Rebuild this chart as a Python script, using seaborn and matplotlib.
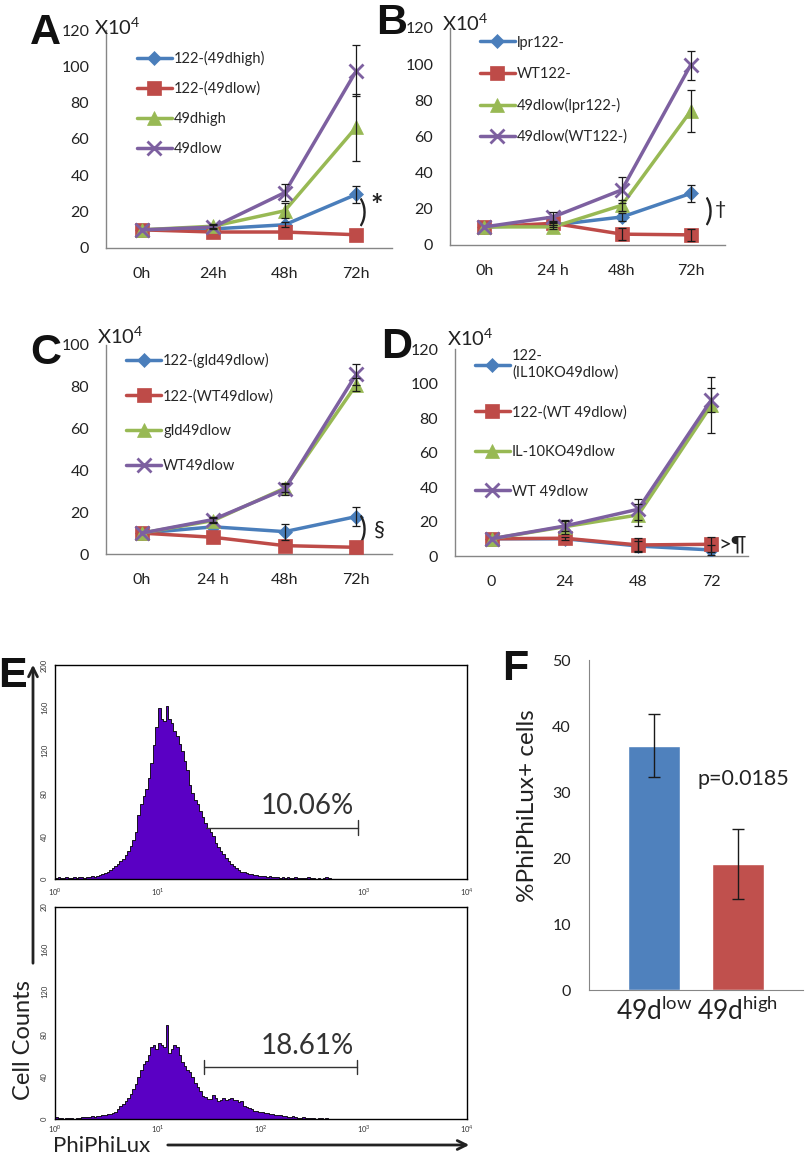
import numpy as np
import matplotlib
matplotlib.use('Agg')
import matplotlib.pyplot as plt
import seaborn as sns

sns.set_style("white")
plt.rcParams['font.family'] = ['Lato', 'DejaVu Sans']

# ---------------- data ----------------
# colours / markers of the 4 series (Excel 2007 look)
line_cols = ['#4A7EBB', '#BE4B48', '#98B954', '#7D60A0']
line_mks = ['D', 's', '^', 'x']
line_ms = [7.5, 10, 10, 10]

# A
a_times = ['0h', '24h', '48h', '72h']
a_names = ['122-(49dhigh)', '122-(49dlow)', '49dhigh', '49dlow']
a_vals = [[10, 10.5, 12.8, 29.5], [10, 8.8, 8.8, 7.3], [10, 12, 20.5, 66.5], [10, 11.5, 30.5, 97.5]]
a_err = [[0, 0, 1.5, 4.5], [0, 0, 0, 0], [0, 1, 4, 18.5], [0, 1, 4.6, 14]]

# B
b_times = ['0h', '24 h', '48h', '72h']
b_names = ['lpr122-', 'WT122-', '49dlow(lpr122-)', '49dlow(WT122-)']
b_vals = [[10, 11, 15.5, 28.5], [10, 12, 6, 5.6], [10, 10, 22, 74], [10, 15.5, 30.5, 99.5]]
b_err = [[0, 1, 2, 4.5], [0, 1, 3.5, 3.5], [0, 1, 3, 11.5], [0, 3, 7, 8]]

# C
c_times = ['0h', '24 h', '48h', '72h']
c_names = ['122-(gld49dlow)', '122-(WT49dlow)', 'gld49dlow', 'WT49dlow']
c_vals = [[10, 13, 10.7, 17.9], [10, 8, 4, 3.2], [10, 16, 31.5, 81], [10, 16.5, 31, 86]]
c_err = [[0, 0, 3.8, 4.7], [0, 0, 0, 0], [0, 1, 2, 3], [0, 1, 3, 5]]

# D
d_times = ['0', '24', '48', '72']
d_names = ['122-\n(IL10KO49dlow)', '122-(WT 49dlow)', 'IL-10KO49dlow', 'WT 49dlow']
d_vals = [[10, 10, 5.8, 3.5], [10, 10.3, 6.4, 6.8], [10, 17, 23.8, 87.5], [10, 17.4, 27.1, 90.5]]
d_err = [[0, 0, 3, 3], [0, 1, 4, 4.5], [0, 4, 6.5, 16], [0, 3, 6, 7]]

# E: flow histograms, counts per bin of 0.025 decade from 10^0 to 10^3
e_binw = 0.025
e_top = [1, 2, 1, 1, 2, 1, 1, 2, 1, 2,
         2, 1, 2, 2, 3, 2, 3, 4, 5, 6,
         7, 8, 10, 12, 14, 17, 19, 22, 26, 31,
         36, 44, 60, 70, 78, 84, 94, 108, 125, 142,
         160, 150, 148, 162, 150, 146, 138, 134, 126, 120,
         110, 102, 88, 80, 74, 70, 64, 58, 52, 48,
         44, 40, 34, 30, 26, 23, 20, 17, 14, 12,
         10, 8, 7, 7, 6, 5, 5, 4, 4, 3,
         3, 3, 2, 3, 2, 2, 2, 1, 2, 1,
         2, 1, 1, 2, 1, 1, 1, 1, 2, 1,
         1, 0, 1, 0, 1, 2, 1, 0, 0, 0,
         0, 0, 0, 0, 0, 0, 0, 0, 0, 0]
e_bot = [2, 1, 1, 0, 1, 1, 1, 0, 1, 1,
         2, 2, 2, 2, 3, 2, 3, 3, 4, 4,
         5, 5, 6, 7, 9, 12, 14, 17, 20, 24,
         28, 33, 40, 46, 52, 55, 60, 68, 70, 66,
         72, 70, 68, 89, 62, 66, 70, 68, 60, 54,
         50, 46, 44, 40, 34, 30, 26, 22, 21, 19,
         19, 23, 20, 17, 18, 20, 18, 19, 20, 18,
         18, 16, 17, 12, 11, 10, 9, 8, 8, 7,
         7, 6, 6, 5, 5, 4, 4, 4, 3, 3,
         2, 2, 3, 2, 1, 1, 2, 1, 1, 1,
         1, 0, 1, 1, 0, 1, 0, 0, 0, 0,
         0, 0, 0, 0, 0, 0, 0, 0, 0, 0]
# gates: (start, end, height), text
e_gate_top = (10 ** 1.47, 10 ** 2.94, 48)
e_gate_bot = (10 ** 1.45, 10 ** 2.93, 49)
e_pct = ['10.06%', '18.61%']

# F
f_groups = ['49d$^{\\mathregular{low}}$', '49d$^{\\mathregular{high}}$']
f_vals = [37.0, 19.1]
f_err = [4.8, 5.3]

W, H = 805, 1158
gray = '#868686'
txt = '#222222'


def fx(px):
    return px / W


def fy(py):
    return 1 - py / H


fig = plt.figure(figsize=(W / 100, H / 100), dpi=100)


def line_panel(rect, times, names, vals, errs, ymax, leg_xy, leg_sp):
    ax = fig.add_axes(rect)
    t = np.arange(4)
    for i in range(4):
        sns.lineplot(x=t, y=vals[i], color=line_cols[i], marker=line_mks[i],
                     ms=line_ms[i], mec=line_cols[i], mew=2 if line_mks[i] == 'x' else 0.5,
                     lw=2.5, label=names[i], ax=ax, zorder=3 + i)
    for i in range(4):
        e = np.array(errs[i])
        m = e > 0
        ax.errorbar(t[m], np.array(vals[i])[m], yerr=e[m], fmt='none', ecolor='#1a1a1a',
                    elinewidth=0.9, capsize=3, capthick=0.9, zorder=10)
    ax.set_xlim(-0.5, 3.5)
    ax.set_ylim(0, ymax)
    ax.set_yticks(np.arange(0, ymax + 1, 20))
    ax.set_xticks(t)
    ax.set_xticklabels(times)
    ax.set_xticks(np.arange(-0.5, 4, 1), minor=True)
    ax.tick_params(axis='x', which='major', length=0, pad=14, labelsize=11.5, labelcolor=txt)
    ax.tick_params(axis='x', which='minor', length=5, width=1, color=gray, direction='out')
    ax.tick_params(axis='y', length=4, width=1, color=gray, direction='out', pad=8,
                   labelsize=11.5, labelcolor=txt)
    for s in ['top', 'right']:
        ax.spines[s].set_visible(False)
    for s in ['left', 'bottom']:
        ax.spines[s].set_color(gray)
        ax.spines[s].set_linewidth(1)
    ax.set_xlabel('')
    ax.set_ylabel('')
    h, l = ax.get_legend_handles_labels()
    ax.legend(h, l, loc='upper left', bbox_to_anchor=leg_xy, frameon=False, fontsize=10.5,
              labelspacing=leg_sp, handlelength=2.4, handletextpad=0.15, borderpad=0,
              borderaxespad=0)
    return ax


axA = line_panel([fx(106), fy(248), fx(286), 218 / H], a_times, a_names, a_vals, a_err, 120,
                 (0.108, 0.905), 1.1)
axB = line_panel([fx(450), fy(245), fx(275), 217 / H], b_times, b_names, b_vals, b_err, 120,
                 (0.109, 0.965), 1.17)
axC = line_panel([fx(106), fy(554), fx(286), 209 / H], c_times, c_names, c_vals, c_err, 100,
                 (0.07, 0.96), 1.42)
axD = line_panel([fx(455), fy(556), fx(293), 207 / H], d_times, d_names, d_vals, d_err, 120,
                 (0.068, 1.0), 1.75)

# significance marks
axA.text(3.03, 19.5, ')', fontsize=22, ha='left', va='center', color=txt)
axA.text(3.2, 23.0, '*', fontsize=21, fontweight='bold', ha='left', va='center', color=txt)
axB.text(3.2, 18.5, ')', fontsize=22, ha='left', va='center', color=txt)
axB.text(3.36, 19.5, '†', fontsize=14, ha='left', va='center', color=txt)
axC.text(3.03, 12.0, ')', fontsize=22, ha='left', va='center', color=txt)
axC.text(3.25, 11.5, '§', fontsize=16, ha='left', va='center', color=txt)
axD.text(3.1, 6.5, '>¶', fontsize=16, ha='left', va='center', color=txt)

# X10^4 labels
for xp, yp in [(94, 35), (442, 31), (97, 344), (447, 346)]:
    fig.text(fx(xp), fy(yp), 'X10$^{\\mathregular{4}}$', fontsize=14.5, color=txt,
             ha='left', va='baseline')

# ---------------- E ----------------
purple = '#5A00C4'


def hist_panel(rect, counts, gate, pct, hide2):
    ax = fig.add_axes(rect)
    n = len(counts)
    edges = list(10 ** (np.arange(n + 1) * e_binw))
    centers = 10 ** ((np.arange(n) + 0.5) * e_binw)
    sns.histplot(x=centers, weights=counts, bins=edges, element='step', fill=True,
                 color=purple, alpha=1, edgecolor='black', linewidth=0.6, ax=ax)
    ax.set_xscale('log')
    ax.set_xlim(1, 1e4)
    ax.set_ylim(0, 200)
    x1, x2, gy = gate
    ax.plot([x1, x2], [gy, gy], color='#333333', lw=1)
    ax.plot([x2, x2], [gy - 7, gy + 7], color='#333333', lw=1)
    if not hide2:
        ax.plot([x1, x1], [gy - 7, gy + 7], color='#333333', lw=1)
    ax.text(10 ** 2.45, gy + 20, pct, fontsize=20, ha='center', va='center', color='#333333')
    ax.set_xticks([1, 10, 100, 1000, 10000])
    xl = ['10$^{\\mathregular{%d}}$' % k for k in range(5)]
    if hide2:
        xl[2] = ''
    ax.set_xticklabels(xl)
    ax.xaxis.set_minor_locator(matplotlib.ticker.LogLocator(base=10, subs=np.arange(2, 10)))
    ax.xaxis.set_minor_formatter(matplotlib.ticker.NullFormatter())
    ax.set_yticks(np.arange(0, 201, 40))
    ax.set_yticks(np.arange(0, 201, 10), minor=True)
    ax.tick_params(axis='both', which='major', length=3.5, width=0.8, direction='out',
                   labelsize=5.5, colors='#333333', pad=1.5)
    ax.tick_params(axis='both', which='minor', length=2, width=0.6, direction='out',
                   colors='#333333')
    for lab in ax.get_yticklabels():
        lab.set_rotation(90)
        lab.set_va('center')
    for s in ax.spines.values():
        s.set_visible(True)
        s.set_color('black')
        s.set_linewidth(1)
    ax.set_xlabel('')
    ax.set_ylabel('')
    return ax


axE1 = hist_panel([fx(55), fy(879), fx(412), 214 / H], e_top, e_gate_top, e_pct[0], True)
axE2 = hist_panel([fx(55), fy(1119), fx(412), 212 / H], e_bot, e_gate_bot, e_pct[1], False)
ylabs = ['0', '40', '80', '120', '160', '20']
axE2.set_yticklabels(ylabs, rotation=90, va='center')
axE2.tick_params(axis='x', which='major', length=3, pad=0)

fig.text(fx(24), fy(1040), 'Cell Counts', rotation=90, fontsize=17, ha='center', va='center',
         color=txt)
fig.add_artist(matplotlib.patches.FancyArrowPatch(
    (fx(33), fy(966)), (fx(33), fy(662)), transform=fig.transFigure,
    arrowstyle='->', mutation_scale=16, lw=2, color=txt))
fig.text(fx(53), fy(1152), 'PhiPhiLux', fontsize=16, ha='left', va='baseline', color=txt)
fig.add_artist(matplotlib.patches.FancyArrowPatch(
    (fx(165), fy(1145)), (fx(472), fy(1145)), transform=fig.transFigure,
    arrowstyle='->', mutation_scale=16, lw=2, color=txt))

# ---------------- F ----------------
axF = fig.add_axes([fx(589), fy(990), fx(214), 330 / H])
sns.barplot(x=f_groups, y=f_vals, hue=f_groups, palette=['#4F81BD', '#C0504D'],
            saturation=1, width=0.63, legend=False, ax=axF)
axF.errorbar(np.arange(2), f_vals, yerr=f_err, fmt='none', ecolor='#1a1a1a', elinewidth=1,
             capsize=4, capthick=1)
axF.set_xlim(-0.774, 1.774)
axF.set_ylim(0, 50)
axF.set_yticks(np.arange(0, 51, 10))
axF.set_xticks([-0.774, 1.774], minor=True)
axF.tick_params(axis='x', which='major', length=0, pad=5, labelsize=19, labelcolor=txt)
axF.tick_params(axis='x', which='minor', length=5, color=gray, direction='out')
axF.tick_params(axis='y', length=5, width=1, color=gray, direction='out', pad=8,
                labelsize=11.5, labelcolor=txt)
for s in ['top', 'right']:
    axF.spines[s].set_visible(False)
for s in ['left', 'bottom']:
    axF.spines[s].set_color(gray)
axF.set_xlabel('')
axF.set_ylabel('%PhiPhiLux+ cells', fontsize=17.5, color=txt)
axF.yaxis.set_label_coords(-0.24, 0.56)
axF.text(0.52, 32, 'p=0.0185', fontsize=15.5, ha='left', va='center', color=txt)

# panel letters
for let, xp, yp in [('A', 30, 44), ('B', 376, 34), ('C', 30, 364), ('D', 381, 358),
                    ('E', -2, 687), ('F', 502, 680)]:
    fig.text(fx(xp), fy(yp), let, fontsize=31, fontweight='bold', ha='left', va='baseline',
             family='Liberation Sans', color='#111111')

plt.savefig('out.png', dpi=100)
